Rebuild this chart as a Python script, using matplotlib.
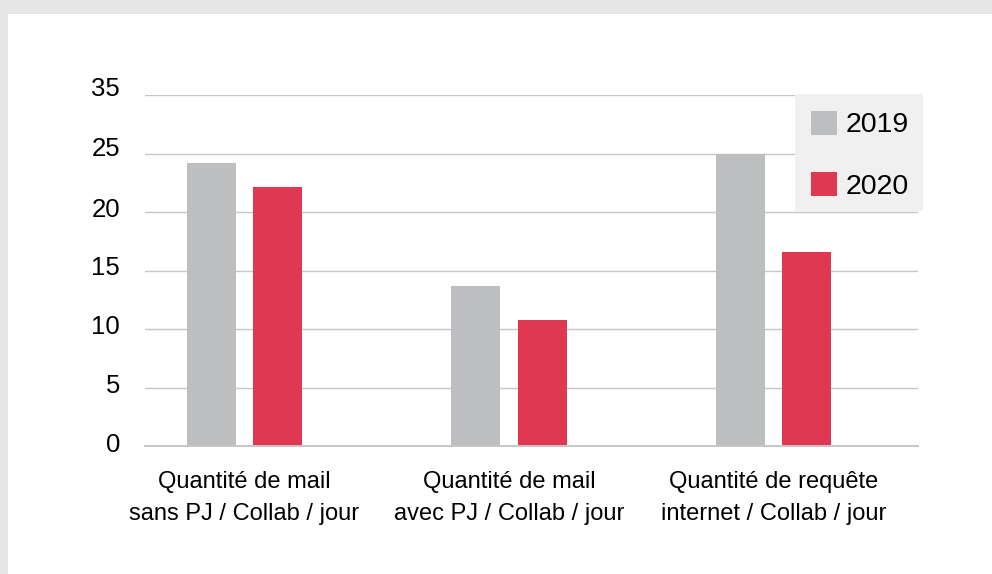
import matplotlib
matplotlib.use("Agg")
import matplotlib.pyplot as plt
from matplotlib.patches import Rectangle
from matplotlib.transforms import ScaledTranslation
import numpy as np

plt.rcParams['font.family'] = ['Liberation Sans', 'DejaVu Sans']

categories = ["Quantité de mail\nsans PJ / Collab / jour",
              "Quantité de mail\navec PJ / Collab / jour",
              "Quantité de requête\ninternet / Collab / jour"]
series_names = ["2019", "2020"]
values_2019 = [24.2, 13.7, 25.0]
values_2020 = [22.1, 10.8, 16.6]
ytick_values = [0, 5, 10, 15, 20, 25, 30]
ytick_labels = ["0", "5", "10", "15", "20", "25", "35"]  # as printed on the original

col_2019 = "#bdbebf"
col_2020 = "#e03752"

W, H = 992, 574
fig = plt.figure(figsize=(W/100, H/100), dpi=100)
fig.patch.set_facecolor("#e6e6e6")
# white card behind everything
fig.patches.append(Rectangle((8/W, 0), 1, 1 - 14/H, transform=fig.transFigure,
                             facecolor="white", edgecolor="none", zorder=-10))

ax = fig.add_axes([145/W, 1 - 446/H, 773/W, 351/H])
ax.set_facecolor("none")

x = np.arange(len(categories))
w = 0.185
ax.bar(x - 0.125, values_2019, w, color=col_2019, label=series_names[0], zorder=2)
ax.bar(x + 0.125, values_2020, w, color=col_2020, label=series_names[1], zorder=2)

ax.set_xlim(-0.376, 2.546)
ax.set_ylim(0, 30)
ax.set_yticks(ytick_values)
ax.set_yticklabels(ytick_labels, fontsize=18.5)
ax.set_xticks(x)
ax.set_xticklabels(categories, fontsize=17, linespacing=1.6)
ax.tick_params(axis='y', length=0, pad=18)
ax.tick_params(axis='x', length=0, pad=18)
ax.grid(axis='y', color="#c6c6c6", linewidth=1.0, zorder=1)
ax.axhline(0, color="#c6c6c6", linewidth=1.4, zorder=3, clip_on=False)
for s in ax.spines.values():
    s.set_visible(False)

# the original's y labels sit a little above their gridlines
shifts = [3, 3.7, 4.3, 4.7, 4.7, 7, 8]
for lbl, dy in zip(ax.get_yticklabels(), shifts):
    lbl.set_transform(lbl.get_transform() + ScaledTranslation(0, dy/100, fig.dpi_scale_trans))

# legend box (drawn in the axes so the legend lands on top of it)
box = Rectangle((795/W, 1 - 211/H), 128/W, 117/H, transform=fig.transFigure,
                facecolor="#f0f0f0", edgecolor="none", zorder=4, clip_on=False)
ax.add_artist(box)
leg = ax.legend(loc="upper left", bbox_to_anchor=(795/W, 1 - 95/H),
                bbox_transform=fig.transFigure,
                fontsize=20.5, frameon=False,
                handlelength=0.92, handleheight=0.92, handletextpad=0.32,
                labelspacing=1.19, borderpad=0.55, borderaxespad=0)
leg.set_zorder(5)

fig.savefig("out.png", dpi=100, facecolor=fig.get_facecolor())
